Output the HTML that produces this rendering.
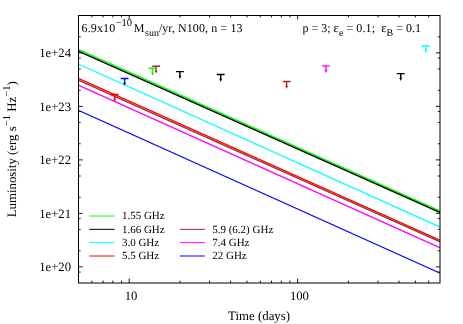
<!DOCTYPE html>
<html><head><meta charset="utf-8"><title>Radio luminosity</title>
<style>html,body{margin:0;padding:0;background:#fff;}svg{display:block;will-change:transform;}text{font-family:"Liberation Serif",serif;fill:#000;text-rendering:geometricPrecision;}</style>
</head><body>
<svg width="463" height="324" viewBox="0 0 463 324">
<rect x="0" y="0" width="463" height="324" fill="#fff"/>
<path d="M91.84 283.00v-2.4M91.84 15.50v1.9M103.11 283.00v-2.4M103.11 15.50v1.9M112.88 283.00v-2.4M112.88 15.50v1.9M121.50 283.00v-2.4M121.50 15.50v1.9M129.21 283.00v-4.4M129.21 15.50v3.9M179.91 283.00v-2.4M179.91 15.50v1.9M209.57 283.00v-2.4M209.57 15.50v1.9M230.62 283.00v-2.4M230.62 15.50v1.9M246.94 283.00v-2.4M246.94 15.50v1.9M260.28 283.00v-2.4M260.28 15.50v1.9M271.56 283.00v-2.4M271.56 15.50v1.9M281.33 283.00v-2.4M281.33 15.50v1.9M289.94 283.00v-2.4M289.94 15.50v1.9M297.65 283.00v-4.4M297.65 15.50v3.9M348.36 283.00v-2.4M348.36 15.50v1.9M378.02 283.00v-2.4M378.02 15.50v1.9M399.06 283.00v-2.4M399.06 15.50v1.9M415.39 283.00v-2.4M415.39 15.50v1.9M428.72 283.00v-2.4M428.72 15.50v1.9M78.50 266.89h4.2M440.00 266.89h-4.2M78.50 213.39h4.2M440.00 213.39h-4.2M78.50 159.89h4.2M440.00 159.89h-4.2M78.50 106.39h4.2M440.00 106.39h-4.2M78.50 52.89h4.2M440.00 52.89h-4.2M78.50 272.08h2.2M440.00 272.08h-2.2M78.50 250.79h2.2M440.00 250.79h-2.2M78.50 229.50h2.2M440.00 229.50h-2.2M78.50 218.58h2.2M440.00 218.58h-2.2M78.50 197.29h2.2M440.00 197.29h-2.2M78.50 176.00h2.2M440.00 176.00h-2.2M78.50 165.08h2.2M440.00 165.08h-2.2M78.50 143.79h2.2M440.00 143.79h-2.2M78.50 122.50h2.2M440.00 122.50h-2.2M78.50 111.58h2.2M440.00 111.58h-2.2M78.50 90.29h2.2M440.00 90.29h-2.2M78.50 69.00h2.2M440.00 69.00h-2.2M78.50 58.08h2.2M440.00 58.08h-2.2M78.50 36.79h2.2M440.00 36.79h-2.2M78.50 15.50h2.2M440.00 15.50h-2.2" stroke="#000" stroke-width="0.9" fill="none"/>
<clipPath id="c"><rect x="78.5" y="15.5" width="361.5" height="267.5"/></clipPath>
<g clip-path="url(#c)" fill="none">
<path d="M76.50 48.51L442.00 211.99" stroke="#00ff00" stroke-width="1.45"/>
<path d="M76.50 50.26L442.00 213.44" stroke="#000000" stroke-width="1.45"/>
<path d="M76.50 63.20L442.00 227.90" stroke="#00ffff" stroke-width="1.25"/>
<path d="M76.50 77.55L442.00 241.20" stroke="#ff0000" stroke-width="1.45"/>
<path d="M76.50 79.41L442.00 242.69" stroke="#a52a2a" stroke-width="1.45"/>
<path d="M76.50 84.30L442.00 248.60" stroke="#ff00ff" stroke-width="1.25"/>
<path d="M76.50 109.50L442.00 274.00" stroke="#0000ff" stroke-width="1.25"/>
</g>
<g stroke="#ff0000" fill="#ff0000"><path d="M110.80 94.50h7.8M114.70 94.50v5.65" stroke-width="1.4" fill="none"/><path d="M113.30 98.75h2.8l-1.4 3.1z" stroke="none"/></g>
<g stroke="#0000ff" fill="#0000ff"><path d="M120.70 78.50h7.8M124.60 78.50v5.65" stroke-width="1.4" fill="none"/><path d="M123.20 82.75h2.8l-1.4 3.1z" stroke="none"/></g>
<g stroke="#a52a2a" fill="#a52a2a"><path d="M152.20 66.20h7.8M156.10 66.20v5.65" stroke-width="1.4" fill="none"/><path d="M154.70 70.45h2.8l-1.4 3.1z" stroke="none"/></g>
<g stroke="#00ff00" fill="#00ff00"><path d="M148.70 68.30h7.8M152.60 68.30v5.65" stroke-width="1.4" fill="none"/><path d="M151.20 72.55h2.8l-1.4 3.1z" stroke="none"/></g>
<g stroke="#000000" fill="#000000"><path d="M176.00 71.60h7.8M179.90 71.60v5.65" stroke-width="1.4" fill="none"/><path d="M178.50 75.85h2.8l-1.4 3.1z" stroke="none"/></g>
<g stroke="#000000" fill="#000000"><path d="M216.80 74.50h7.8M220.70 74.50v5.65" stroke-width="1.4" fill="none"/><path d="M219.30 78.75h2.8l-1.4 3.1z" stroke="none"/></g>
<g stroke="#a52a2a" fill="#a52a2a"><path d="M282.70 81.45h7.8M286.60 81.45v5.65" stroke-width="1.4" fill="none"/><path d="M285.20 85.70h2.8l-1.4 3.1z" stroke="none"/></g>
<g stroke="#ff00ff" fill="#ff00ff"><path d="M322.10 65.85h7.8M326.00 65.85v5.65" stroke-width="1.4" fill="none"/><path d="M324.60 70.10h2.8l-1.4 3.1z" stroke="none"/></g>
<g stroke="#000000" fill="#000000"><path d="M396.80 73.60h7.8M400.70 73.60v5.65" stroke-width="1.4" fill="none"/><path d="M399.30 77.85h2.8l-1.4 3.1z" stroke="none"/></g>
<g stroke="#00ffff" fill="#00ffff"><path d="M421.90 46.00h7.8M425.80 46.00v5.65" stroke-width="1.4" fill="none"/><path d="M424.40 50.25h2.8l-1.4 3.1z" stroke="none"/></g>
<rect x="78.5" y="15.5" width="361.5" height="267.5" fill="none" stroke="#000" stroke-width="1"/>
<text x="71.0" y="271.09" font-size="12.7" text-anchor="end">1e+20</text>
<text x="71.0" y="217.59" font-size="12.7" text-anchor="end">1e+21</text>
<text x="71.0" y="164.09" font-size="12.7" text-anchor="end">1e+22</text>
<text x="71.0" y="110.59" font-size="12.7" text-anchor="end">1e+23</text>
<text x="71.0" y="57.09" font-size="12.7" text-anchor="end">1e+24</text>
<text x="131.11" y="300" font-size="12.7" text-anchor="middle">10</text>
<text x="299.45" y="300" font-size="12.7" text-anchor="middle">100</text>
<text x="259.1" y="319.75" font-size="12.85" text-anchor="middle">Time (days)</text>
<text transform="translate(15.8 149.3) rotate(-90)" font-size="12.85" text-anchor="middle">Luminosity (erg s<tspan font-size="10.6" dy="-6.3">−1</tspan><tspan dy="6.3"> Hz</tspan><tspan font-size="10.6" dy="-6.3">−1</tspan><tspan dy="6.3">)</tspan></text>
<g font-size="12">
<text x="81.6" y="32.0" letter-spacing="0.12">6.9x10</text>
<text x="115.7" y="25.9" font-size="10.5">−10</text>
<text x="133.8" y="32.0">M</text>
<text x="145.1" y="36.1" font-size="10">sun</text>
<text x="158.9" y="32.0" letter-spacing="0.04" word-spacing="0.18">/yr, N100, n = 13</text>
<text x="302.4" y="32.0">p = 3; </text>
<text x="333.4" y="32.0" font-size="13">ε</text>
<text x="339.1" y="36.1" font-size="10">e</text>
<text x="343.3" y="32.0" letter-spacing="0.1">&#160;= 0.1;</text>
<text x="381.2" y="32.0" font-size="13">ε</text>
<text x="386.6" y="36.1" font-size="10">B</text>
<text x="393.2" y="32.0">&#160;= 0.1</text>
</g>
<path d="M89.3 216.0H114.7" stroke="#00ff00" stroke-width="1"/>
<text x="121.9" y="219.45" font-size="11">1.55 GHz</text>
<path d="M89.3 229.33H114.7" stroke="#000000" stroke-width="1"/>
<text x="121.9" y="232.78" font-size="11">1.66 GHz</text>
<path d="M179.8 229.33H204.9" stroke="#a52a2a" stroke-width="1"/>
<text x="212.2" y="232.78" font-size="11">5.9 (6.2) GHz</text>
<path d="M89.3 242.67H114.7" stroke="#00ffff" stroke-width="1"/>
<text x="121.9" y="246.12" font-size="11">3.0 GHz</text>
<path d="M179.8 242.67H204.9" stroke="#ff00ff" stroke-width="1"/>
<text x="212.2" y="246.12" font-size="11">7.4 GHz</text>
<path d="M89.3 256.0H114.7" stroke="#ff0000" stroke-width="1"/>
<text x="121.9" y="259.45" font-size="11">5.5 GHz</text>
<path d="M179.8 256.0H204.9" stroke="#0000ff" stroke-width="1"/>
<text x="212.2" y="259.45" font-size="11">22 GHz</text>
</svg></body></html>
